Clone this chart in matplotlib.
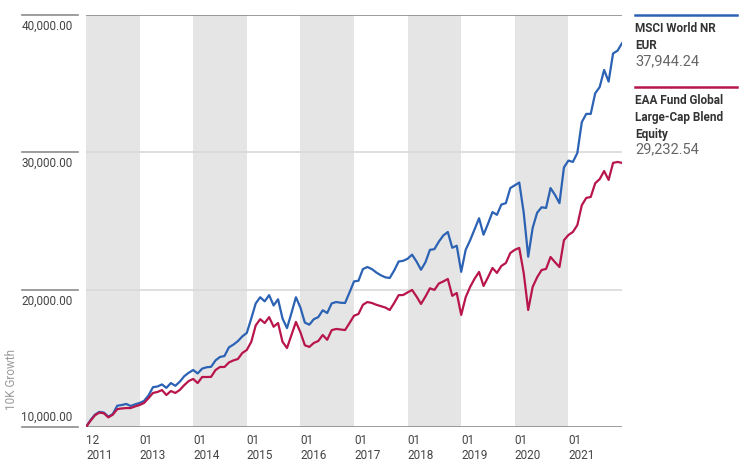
import matplotlib
matplotlib.use('Agg')
import matplotlib.pyplot as plt
from matplotlib import font_manager

# -----------------------------
# Data (monthly growth of 10K, Dec 2011 .. Dec 2021)
# -----------------------------
msci_world = [
    10000, 10500, 10900, 11100, 11050, 10750, 10950, 11550, 11600, 11680, 11530, 11650,
    11750, 11900, 12300, 12900, 12950, 13100, 12850, 13200, 13000, 13300, 13700, 13950,
    14150, 13900, 14250, 14350, 14380, 14850, 15100, 15170, 15800, 16000, 16250, 16600,
    16850, 17900, 19000, 19450, 19150, 19600, 18850, 19300, 17900, 17200, 18300, 19450,
    18700, 17600, 17450, 17850, 18000, 18500, 18300, 19000, 19100, 19050, 19030, 19800,
    20600, 20650, 21500, 21650, 21500, 21250, 21050, 20900, 20850, 21400, 22050, 22100,
    22250, 22550, 22050, 21450, 22000, 22900, 22950, 23500, 23950, 24200, 23050, 23200,
    21300, 22900, 23600, 24400, 25200, 24000, 24800, 25650, 25450, 26200, 26300, 27400,
    27600, 27800, 25600, 22400, 24500, 25600, 26000, 25950, 27400, 26900, 26300, 28900,
    29400, 29300, 29950, 32200, 32800, 32800, 34300, 34750, 36000, 35150, 37200, 37400,
    37944.24,
]
eaa_blend = [
    10000, 10450, 10850, 11050, 11000, 10700, 10900, 11300, 11350, 11380, 11380, 11500,
    11600, 11750, 12100, 12480, 12550, 12690, 12330, 12620, 12480, 12700, 13050, 13350,
    13500, 13200, 13640, 13640, 13650, 14150, 14370, 14370, 14700, 14850, 14950, 15390,
    15610, 16200, 17400, 17850, 17570, 18000, 17300, 17570, 16200, 15750, 16700, 17650,
    16900, 15950, 15830, 16120, 16260, 16700, 16350, 17050, 17140, 17100, 17060, 17570,
    18100, 18230, 18900, 19100, 19030, 18900, 18800, 18700, 18520, 19030, 19600, 19610,
    19800, 19980, 19500, 18960, 19500, 20100, 19980, 20450, 20600, 20780, 19550, 19760,
    18160, 19450, 20200, 20800, 21290, 20270, 20900, 21580, 21220, 21730, 21940, 22670,
    22900, 23040, 21200, 18520, 20200, 20900, 21430, 21510, 22380, 22000, 21650, 23600,
    23980, 24200, 24700, 26150, 26680, 26750, 27750, 28050, 28640, 27990, 29230, 29300,
    29232.54,
]
tick_pos = [0, 12, 24, 36, 48, 60, 72, 84, 96, 108]
tick_labels = ['12\n2011', '01\n2013', '01\n2014', '01\n2015', '01\n2016',
               '01\n2017', '01\n2018', '01\n2019', '01\n2020', '01\n2021']
y_ticks = [10000, 20000, 30000, 40000]
series_names = ['MSCI World NR\nEUR', 'EAA Fund Global\nLarge-Cap Blend\nEquity']
last_values = ['37,944.24', '29,232.54']

BLUE = '#2c62b4'
RED = '#b8164a'

# condensed font if available
names = set(f.name for f in font_manager.fontManager.ttflist)
fam = 'Liberation Sans Narrow' if 'Liberation Sans Narrow' in names else 'Roboto'
plt.rcParams['font.family'] = [fam, 'DejaVu Sans']

fig = plt.figure(figsize=(7.56, 4.65), dpi=100)
ax = fig.add_axes([86/756, 1 - 427/465, (622-86)/756, (427-15)/465])

months = list(range(len(msci_world)))

# alternating year bands
for start in range(0, 120, 24):
    ax.axvspan(start, start + 12, color='#e5e5e5', lw=0, zorder=0)

# gridlines
for v in y_ticks:
    col = '#8c8c8c' if v in (10000, 40000) else '#d9d9d9'
    ax.axhline(v, color=col, lw=1.2, zorder=1)
    # short line on the left for the label
    ax.plot([-0.12, -0.015], [v, v], transform=ax.get_yaxis_transform(),
            color='#8c8c8c', lw=1.2, clip_on=False)
    lab = f'{v:,.2f}'
    if v == 10000:
        ax.text(-0.025, v + 250, lab, transform=ax.get_yaxis_transform(), ha='right',
                va='bottom', fontsize=8.5, color='#444444')
    else:
        ax.text(-0.025, v - 350, lab, transform=ax.get_yaxis_transform(), ha='right',
                va='top', fontsize=8.5, color='#444444')

ax.plot(months, msci_world, color=BLUE, lw=1.6, zorder=3)
ax.plot(months, eaa_blend, color=RED, lw=1.6, zorder=3)

ax.set_xlim(0, 120)
ax.set_ylim(10000, 40000)
ax.set_yticks([])
ax.set_xticks(tick_pos)
ax.set_xticklabels(tick_labels, ha='left', fontsize=8.5, color='#444444', linespacing=1.25)
ax.tick_params(axis='x', length=0, pad=5)
for s in ax.spines.values():
    s.set_visible(False)

fig.text(12/756, 1 - 410/465, '10K Growth', rotation=90, ha='center', va='bottom',
         fontsize=8.5, color='#9a9a9a')

# right-hand legend
lx0, lx1 = 635/756, 737/756
for i, (name, val, col) in enumerate(zip(series_names, last_values, [BLUE, RED])):
    ytop = [15, 87][i]
    fig.add_artist(plt.Line2D([lx0, lx1], [1 - ytop/465] * 2, color=col, lw=1.8,
                              transform=fig.transFigure))
    nlines = name.count('\n') + 1
    fig.text(lx0, 1 - (ytop + 7)/465, name, ha='left', va='top', fontsize=8.5,
             fontweight='bold', color='#333333', linespacing=1.4)
    fig.text(lx0, 1 - (ytop + 7 + nlines * 16)/465, val, ha='left', va='top',
             fontsize=10.5, color='#666666')

fig.savefig('out.png', dpi=100)
